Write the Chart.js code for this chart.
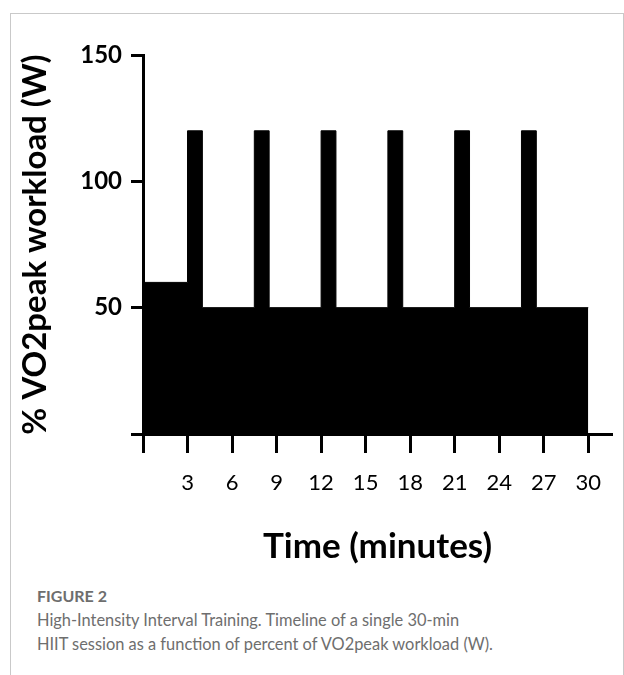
<!DOCTYPE html>
<html lang="en">
<head>
  <meta charset="UTF-8">
  <meta name="viewport" content="width=device-width, initial-scale=1.0">
  <title>HIIT timeline</title>
  <style>
    body { margin: 0; background: #fff; }
    #frame { position: absolute; left: 10px; top: 13px; width: 612px; height: 700px; border: 1px solid #c9c9c9; }
    #chartBox { position: absolute; left: 0; top: 0; width: 624px; height: 575px; }
    .cap { position: absolute; left: 37px; font-family: Lato, sans-serif; color: #6e6e6e; white-space: nowrap; }
  </style>
</head>
<body>
  <div id="frame"></div>
  <div id="chartBox"><canvas id="canvas" width="624" height="575"></canvas></div>
  <div class="cap" style="top:586px; font-size:16px; font-weight:bold;">FIGURE 2</div>
  <div class="cap" style="top:608px; font-size:16.4px; line-height:24px;">High-Intensity Interval Training. Timeline of a single 30-min<br>HIIT session as a function of percent of VO2peak workload (W).</div>

  <script src="https://cdn.jsdelivr.net/npm/chart.js"></script>
  <script>
    // step starts (minutes) and workload held from each one
    const minutes = [0, 3, 4, 7.5, 8.5, 12, 13, 16.5, 17.5, 21, 22, 25.5, 26.5, 30];
    const workload = [60, 120, 50, 120, 50, 120, 50, 120, 50, 120, 50, 120, 50, 50];
    const xTicks = [0, 3, 6, 9, 12, 15, 18, 21, 24, 27, 30];
    const yTicks = [0, 50, 100, 150];

    const points = minutes.map((m, i) => ({ x: m, y: workload[i] }));

    const draw = () => {
      const canvas = document.getElementById('canvas');
      new Chart(canvas, {
        type: 'line',
        data: {
          datasets: [{
            data: points,
            stepped: true,
            fill: 'origin',
            backgroundColor: '#000',
            borderColor: '#000',
            borderWidth: 1,
            pointRadius: 0
          }]
        },
        options: {
          responsive: false,
          animation: false,
          devicePixelRatio: 1,
          layout: { padding: { left: 0, top: 55, right: 12, bottom: 0 } },
          plugins: { legend: { display: false }, tooltip: { enabled: false } },
          scales: {
            x: {
              type: 'linear',
              min: 0,
              max: 31.6,
              afterBuildTicks: (s) => { s.ticks = xTicks.map(v => ({ value: v })); },
              afterFit: (s) => { s.height = 141; },
              grid: { drawOnChartArea: false, drawTicks: true, tickLength: 19, tickWidth: 3, tickColor: '#000' },
              border: { display: true, width: 3, color: '#000' },
              ticks: {
                color: '#000',
                padding: 17,
                maxRotation: 0,
                font: { family: 'Lato', size: 22 },
                callback: (v) => v === 0 ? '' : v
              },
              title: {
                display: true,
                text: 'Time (minutes)',
                color: '#000',
                font: { family: 'Lato', size: 35, weight: 'bold' },
                padding: { top: 0, bottom: 7 }
              }
            },
            y: {
              min: 0,
              max: 150,
              afterBuildTicks: (s) => { s.ticks = yTicks.map(v => ({ value: v })); },
              afterFit: (s) => { s.width = 143; },
              grid: { drawOnChartArea: false, drawTicks: true, tickLength: 12, tickWidth: 3, tickColor: '#000' },
              border: { display: true, width: 3, color: '#000' },
              ticks: {
                color: '#000',
                padding: 9,
                font: { family: 'Lato', size: 24, weight: 'bold' },
                callback: (v) => v === 0 ? '' : v
              },
              title: {
                display: true,
                text: '% VO2peak workload (W)',
                color: '#000',
                font: { family: 'Lato', size: 33, weight: 'bold' },
                padding: { top: 16, bottom: 0 }
              }
            }
          }
        }
      });
    };

    Promise.all([
      document.fonts.load('bold 33px Lato'),
      document.fonts.load('22px Lato')
    ]).then(draw, draw);
  </script>
</body>
</html>
